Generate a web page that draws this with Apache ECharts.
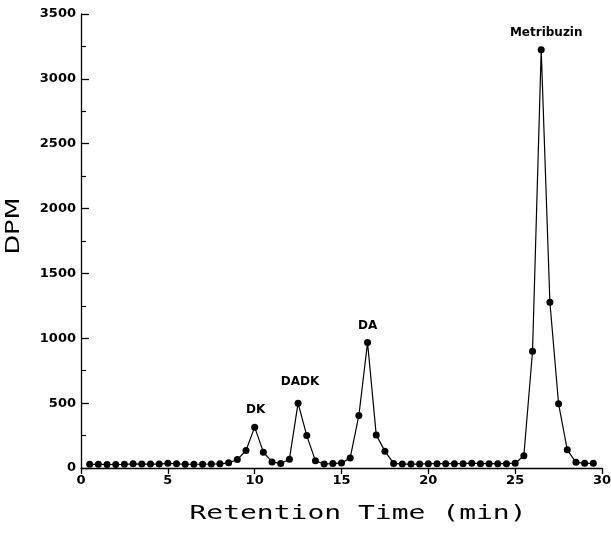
<!DOCTYPE html>
<html>
<head>
<meta charset="utf-8">
<script src="https://cdn.jsdelivr.net/npm/echarts@6/dist/echarts.min.js"></script>
<style>html,body{margin:0;padding:0;background:#fff}#c{width:611px;height:535px}</style>
</head>
<body>
<div id="c"></div>
<script>
const times = [0.5,1,1.5,2,2.5,3,3.5,4,4.5,5,5.5,6,6.5,7,7.5,8,8.5,9,9.5,10,10.5,11,11.5,12,12.5,13,13.5,14,14.5,15,15.5,16,16.5,17,17.5,18,18.5,19,19.5,20,20.5,21,21.5,22,22.5,23,23.5,24,24.5,25,25.5,26,26.5,27,27.5,28,28.5,29,29.5];
const dpm = [28,28,27,27,28,32,30,30,30,36,
             32,29,29,29,31,32,40,65,135,315,
             122,47,34,68,500,250,55,31,34,39,
             78,405,967,255,130,35,30,30,30,33,
             33,33,33,33,37,33,33,33,33,37,
             95,900,3225,1278,495,140,44,36,36];
const peakTimes = [10, 12.5, 16.5, 26.5];
const peakNames = ['DK', 'DADK', 'DA', 'Metribuzin'];
const xTicks = [0,5,10,15,20,25,30];
const yTicks = [0,500,1000,1500,2000,2500,3000,3500];
const xTitle = 'Retention Time (min)';
const yTitle = 'DPM';

const labelGap = [7.5, 12, 7.5, 7.5];
const labelShift = [1, 2, 0, 5];
const data = times.map((t, i) => {
  const k = peakTimes.indexOf(t);
  const item = { value: [t, dpm[i]] };
  if (k >= 0) {
    item.label = { show: true, formatter: peakNames[k], position: 'top', distance: labelGap[k], offset: [labelShift[k], 0],
      fontFamily: 'DejaVu Sans', fontWeight: 'bold', fontSize: 12, color: '#000' };
  }
  return item;
});

const chart = echarts.init(document.getElementById('c'), null, { renderer: 'canvas' });
chart.setOption({
  animation: false,
  backgroundColor: '#fff',
  grid: { left: 81, right: 9, top: 14, bottom: 67, containLabel: false, outerBoundsMode: 'none' },
  xAxis: {
    type: 'value', min: xTicks[0], max: xTicks[xTicks.length-1], interval: 5,
    axisLine: { lineStyle: { color: '#000', width: 1.3 } },
    axisTick: { inside: false, length: 6, lineStyle: { color: '#000', width: 1.3 } },
    axisLabel: { fontFamily: 'DejaVu Sans', fontWeight: 'bold', fontSize: 13, color: '#000', margin: 6,
      formatter: v => String(v) },
    splitLine: { show: false }
  },
  yAxis: {
    type: 'value', min: yTicks[0], max: yTicks[yTicks.length-1], interval: 500,
    axisLine: { show: true, lineStyle: { color: '#000', width: 1.3 } },
    axisTick: { show: true, inside: true, length: 8, lineStyle: { color: '#000', width: 1.3 } },
    minorTick: { show: true, splitNumber: 2, length: 5, lineStyle: { color: '#000', width: 1.2 } },
    axisLabel: { fontFamily: 'DejaVu Sans', fontWeight: 'bold', fontSize: 13, color: '#000', margin: 5,
      formatter: v => String(v) },
    splitLine: { show: false }, minorSplitLine: { show: false }
  },
  graphic: [
    { type: 'text', x: 358, y: 514, scaleX: 1.4, originX: 0, originY: 0,
      style: { text: xTitle, font: '20px "DejaVu Sans Mono"', fill: '#000', align: 'center', verticalAlign: 'middle' } },
    { type: 'text', x: 14, y: 226, rotation: Math.PI / 2, scaleX: 1.28,
      style: { text: yTitle, font: '20px "DejaVu Sans"', fill: '#000', align: 'center', verticalAlign: 'middle' } }
  ],
  series: [{
    type: 'line', data: data,
    symbol: 'circle', symbolSize: 7, showAllSymbol: true,
    lineStyle: { color: '#000', width: 1.2 },
    itemStyle: { color: '#000' },
    z: 3
  }]
});
</script>
</body>
</html>
